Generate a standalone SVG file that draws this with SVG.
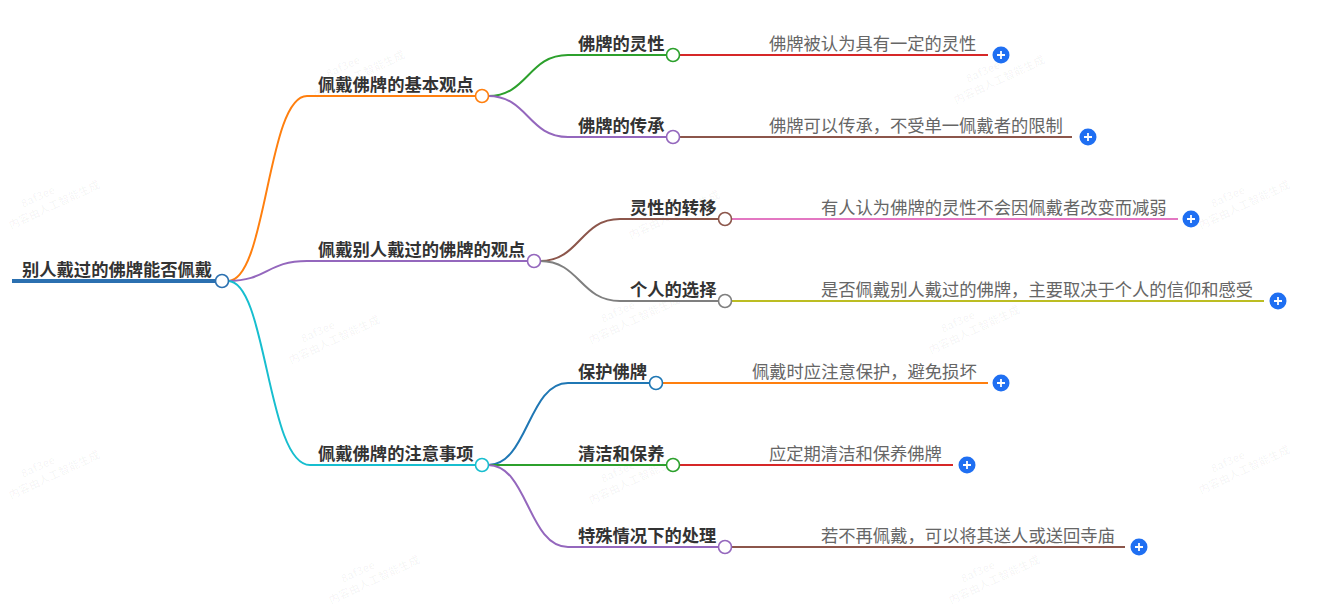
<svg xmlns="http://www.w3.org/2000/svg" width="1320" height="607" viewBox="0 0 1320 607">
<style>
.lbl{font-family:"Noto Sans CJK SC","Noto Sans",sans-serif;font-size:17.3px;font-weight:bold;fill:#333}
.leaf{font-family:"Noto Sans CJK SC","Noto Sans",sans-serif;font-size:17.3px;fill:#666}
.wm{font-family:"Noto Sans CJK SC","Liberation Sans",sans-serif;font-size:11px;fill:#000;fill-opacity:0.035;font-weight:bold}
.c{fill:none;stroke-width:2}
.dot{fill:#fff;stroke-width:1.6}
.plus circle{fill:#1f6ff2}
.plus path{stroke:#fff;stroke-width:1.8;fill:none}
</style>
<rect width="1320" height="607" fill="#fff"/>
<g id="watermarks">
<g transform="translate(965,100) rotate(-25)"><text class="wm" x="10" y="-14">8af3ee</text><text class="wm" x="-10" y="0">内容由人工智能生成</text></g>
<g transform="translate(325,95) rotate(-25)"><text class="wm" x="10" y="-14">8af3ee</text><text class="wm" x="-10" y="0">内容由人工智能生成</text></g>
<g transform="translate(640,235) rotate(-25)"><text class="wm" x="10" y="-14">8af3ee</text><text class="wm" x="-10" y="0">内容由人工智能生成</text></g>
<g transform="translate(1210,225) rotate(-25)"><text class="wm" x="10" y="-14">8af3ee</text><text class="wm" x="-10" y="0">内容由人工智能生成</text></g>
<g transform="translate(20,225) rotate(-25)"><text class="wm" x="10" y="-14">8af3ee</text><text class="wm" x="-10" y="0">内容由人工智能生成</text></g>
<g transform="translate(300,360) rotate(-25)"><text class="wm" x="10" y="-14">8af3ee</text><text class="wm" x="-10" y="0">内容由人工智能生成</text></g>
<g transform="translate(600,340) rotate(-25)"><text class="wm" x="10" y="-14">8af3ee</text><text class="wm" x="-10" y="0">内容由人工智能生成</text></g>
<g transform="translate(940,350) rotate(-25)"><text class="wm" x="10" y="-14">8af3ee</text><text class="wm" x="-10" y="0">内容由人工智能生成</text></g>
<g transform="translate(600,500) rotate(-25)"><text class="wm" x="10" y="-14">8af3ee</text><text class="wm" x="-10" y="0">内容由人工智能生成</text></g>
<g transform="translate(1210,490) rotate(-25)"><text class="wm" x="10" y="-14">8af3ee</text><text class="wm" x="-10" y="0">内容由人工智能生成</text></g>
<g transform="translate(20,495) rotate(-25)"><text class="wm" x="10" y="-14">8af3ee</text><text class="wm" x="-10" y="0">内容由人工智能生成</text></g>
<g transform="translate(340,600) rotate(-25)"><text class="wm" x="10" y="-14">8af3ee</text><text class="wm" x="-10" y="0">内容由人工智能生成</text></g>
<g transform="translate(960,600) rotate(-25)"><text class="wm" x="10" y="-14">8af3ee</text><text class="wm" x="-10" y="0">内容由人工智能生成</text></g>
</g>
<g id="connectors">
<path class="c" stroke="#ff7f0e" d="M228 281 C267 281 267 96 307 96 H476"/>
<path class="c" stroke="#9467bd" d="M228 281 C267 281 267 261 307 261 H528"/>
<path class="c" stroke="#17becf" d="M228 281 C267 281 267 465 310 465 H476"/>
<path class="c" stroke="#2ca02c" d="M488 96 C528 96 528 55 568 55 H667"/>
<path class="c" stroke="#9467bd" d="M488 96 C528 96 528 137 568 137 H667"/>
<path class="c" stroke="#d62728" d="M679 55 H988"/>
<path class="c" stroke="#8c564b" d="M679 137 H1072"/>
<path class="c" stroke="#8c564b" d="M540 261 C580 261 580 219 620 219 H719"/>
<path class="c" stroke="#7f7f7f" d="M540 261 C580 261 580 301 620 301 H719"/>
<path class="c" stroke="#e377c2" d="M731 219 H1178"/>
<path class="c" stroke="#bcbd22" d="M731 301 H1264"/>
<path class="c" stroke="#1f77b4" d="M488 465 C528 465 528 383 568 383 H650"/>
<path class="c" stroke="#2ca02c" d="M488 465 H667"/>
<path class="c" stroke="#9467bd" d="M488 465 C528 465 528 547 568 547 H719"/>
<path class="c" stroke="#ff7f0e" d="M662 383 H988"/>
<path class="c" stroke="#d62728" d="M679 465 H953"/>
<path class="c" stroke="#8c564b" d="M731 547 H1125"/>
</g>
<g id="root">
<path d="M12 281 H216" stroke="#2b70b0" stroke-width="4" fill="none"/>
<text class="lbl" x="22" y="276">别人戴过的佛牌能否佩戴</text>
<circle class="dot" cx="222" cy="281" r="6.5" stroke="#2b70b0"/>
</g>
<g id="b1"><text class="lbl" x="318" y="91">佩戴佛牌的基本观点</text><circle class="dot" cx="482" cy="96" r="6.5" stroke="#ff7f0e"/></g>
<g id="b2"><text class="lbl" x="318" y="256">佩戴别人戴过的佛牌的观点</text><circle class="dot" cx="534" cy="261" r="6.5" stroke="#9467bd"/></g>
<g id="b3"><text class="lbl" x="318" y="460">佩戴佛牌的注意事项</text><circle class="dot" cx="482" cy="465" r="6.5" stroke="#17becf"/></g>
<g id="n11"><text class="lbl" x="578" y="50">佛牌的灵性</text><circle class="dot" cx="673" cy="55" r="6.5" stroke="#2ca02c"/></g>
<g id="n12"><text class="lbl" x="578" y="132">佛牌的传承</text><circle class="dot" cx="673" cy="137" r="6.5" stroke="#9467bd"/></g>
<g id="n21"><text class="lbl" x="630" y="214">灵性的转移</text><circle class="dot" cx="725" cy="219" r="6.5" stroke="#8c564b"/></g>
<g id="n22"><text class="lbl" x="630" y="296">个人的选择</text><circle class="dot" cx="725" cy="301" r="6.5" stroke="#7f7f7f"/></g>
<g id="n31"><text class="lbl" x="578" y="378">保护佛牌</text><circle class="dot" cx="656" cy="383" r="6.5" stroke="#1f77b4"/></g>
<g id="n32"><text class="lbl" x="578" y="460">清洁和保养</text><circle class="dot" cx="673" cy="465" r="6.5" stroke="#2ca02c"/></g>
<g id="n33"><text class="lbl" x="578" y="542">特殊情况下的处理</text><circle class="dot" cx="725" cy="547" r="6.5" stroke="#9467bd"/></g>
<g id="l11"><text class="leaf" x="769" y="50">佛牌被认为具有一定的灵性</text><g class="plus"><circle cx="1001" cy="55" r="8.5"/><path d="M997 55 H1005 M1001 51 V59"/></g></g>
<g id="l12"><text class="leaf" x="769" y="132">佛牌可以传承，不受单一佩戴者的限制</text><g class="plus"><circle cx="1088" cy="137" r="8.5"/><path d="M1084 137 H1092 M1088 133 V141"/></g></g>
<g id="l21"><text class="leaf" x="821" y="214">有人认为佛牌的灵性不会因佩戴者改变而减弱</text><g class="plus"><circle cx="1191" cy="219" r="8.5"/><path d="M1187 219 H1195 M1191 215 V223"/></g></g>
<g id="l22"><text class="leaf" x="821" y="296">是否佩戴别人戴过的佛牌，主要取决于个人的信仰和感受</text><g class="plus"><circle cx="1278" cy="301" r="8.5"/><path d="M1274 301 H1282 M1278 297 V305"/></g></g>
<g id="l31"><text class="leaf" x="752" y="378">佩戴时应注意保护，避免损坏</text><g class="plus"><circle cx="1001" cy="383" r="8.5"/><path d="M997 383 H1005 M1001 379 V387"/></g></g>
<g id="l32"><text class="leaf" x="769" y="460">应定期清洁和保养佛牌</text><g class="plus"><circle cx="967" cy="465" r="8.5"/><path d="M963 465 H971 M967 461 V469"/></g></g>
<g id="l33"><text class="leaf" x="821" y="542">若不再佩戴，可以将其送人或送回寺庙</text><g class="plus"><circle cx="1139" cy="547" r="8.5"/><path d="M1135 547 H1143 M1139 543 V551"/></g></g>
</svg>
